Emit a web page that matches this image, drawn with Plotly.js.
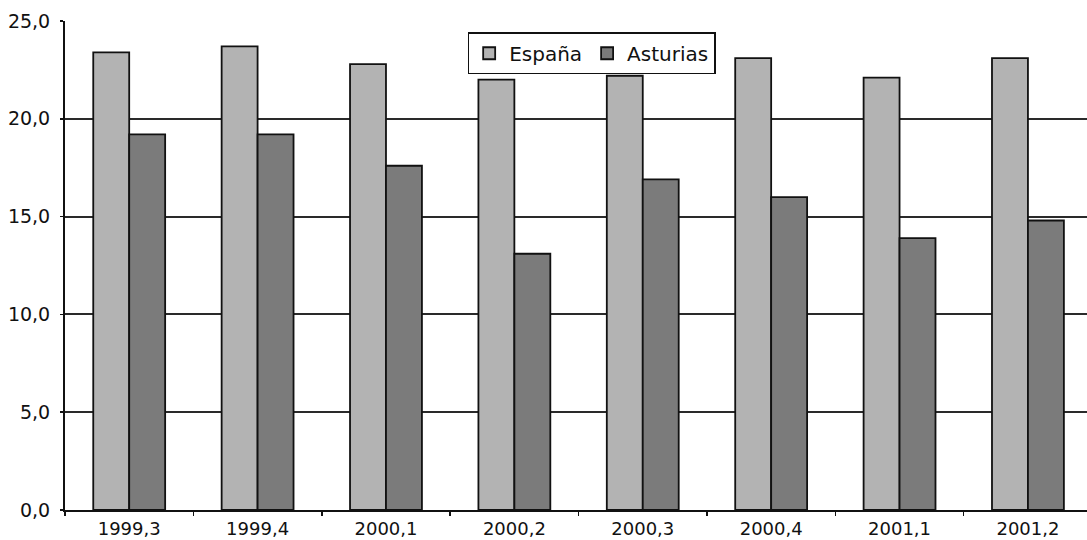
<!DOCTYPE html>
<html>
<head>
<meta charset="utf-8">
<script src="https://cdn.plot.ly/plotly-3.0.1.min.js"></script>
<style>html,body{margin:0;padding:0;background:#fff;}#chart{width:1087px;height:540px;}</style>
</head>
<body>
<div id="chart"></div>
<script>
var categories = ["1999,3", "1999,4", "2000,1", "2000,2", "2000,3", "2000,4", "2001,1", "2001,2"];
var espana = [23.4, 23.7, 22.8, 22.0, 22.2, 23.1, 22.1, 23.1];
var asturias = [19.2, 19.2, 17.6, 13.1, 16.9, 16.0, 13.9, 14.8];
var yTicks = [0, 5, 10, 15, 20, 25];

var traces = [
  {type: "bar", name: "España", x: categories, y: espana,
   marker: {color: "#b3b3b3", line: {color: "#111", width: 1.8}}},
  {type: "bar", name: "Asturias", x: categories, y: asturias,
   marker: {color: "#7b7b7b", line: {color: "#111", width: 1.8}}}
];

var layout = {
  width: 1087, height: 540,
  margin: {l: 65, r: 0, t: 21, b: 30, pad: 0},
  paper_bgcolor: "#fff", plot_bgcolor: "#fff",
  separators: ",.",
  font: {family: "DejaVu Sans, sans-serif", size: 19, color: "#111"},
  barmode: "group", bargap: 0.44, bargroupgap: 0,
  showlegend: true,
  legend: {orientation: "h", x: 0.394, y: 0.977, xanchor: "left", yanchor: "top",
           bgcolor: "#fff", bordercolor: "#111", borderwidth: 1.5,
           font: {size: 20, color: "#111"}, itemwidth: 30, tracegroupgap: 0},
  xaxis: {type: "category", range: [-0.5, 7.46], showline: true, linecolor: "#111", linewidth: 2,
          ticks: "outside", tickson: "boundaries", ticklen: 4, tickcolor: "#111", tickwidth: 1.5,
          ticklabelstandoff: 1,
          showgrid: false, tickfont: {size: 18}},
  yaxis: {range: [0, 25], tickvals: yTicks, tickformat: ".1f", showline: true, linecolor: "#111", linewidth: 2,
          ticks: "outside", ticklen: 3, tickcolor: "#111", tickwidth: 1.5,
          ticklabelstandoff: 6,
          showgrid: true, gridcolor: "#2a2a2a", gridwidth: 1.8, zeroline: false, tickfont: {size: 19}}
};

Plotly.newPlot("chart", traces, layout, {displayModeBar: false, staticPlot: true});
</script>
</body>
</html>
